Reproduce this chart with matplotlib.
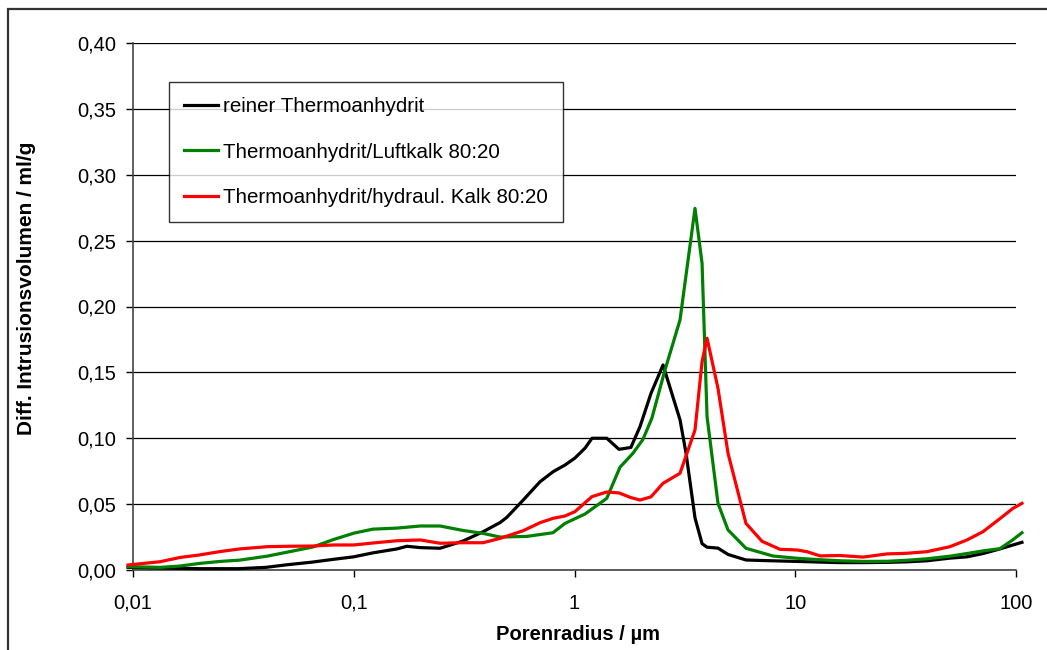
import matplotlib
matplotlib.use("Agg")
import matplotlib.pyplot as plt
from matplotlib.patches import Rectangle

plt.rcParams['font.family'] = ['Liberation Sans', 'DejaVu Sans']

# Pore radius (µm) and differential intrusion volume (ml/g)
radius_black = [0.0095, 0.0133, 0.02, 0.03, 0.04, 0.05, 0.065, 0.08, 0.1, 0.122,
                0.157, 0.174, 0.2, 0.246, 0.3127, 0.385, 0.46, 0.494, 0.585, 0.698,
                0.80, 0.906, 1.005, 1.116, 1.2, 1.4, 1.59, 1.80, 1.98, 2.22,
                2.518, 3.006, 3.2, 3.515, 3.783, 3.985, 4.467, 4.96, 5.98, 7.07,
                10.19, 12.95, 15.95, 20.28, 26.03, 32.07, 39.5, 50.2, 59.98, 70.9,
                84.6, 96.9, 106.4]
volume_black = [0.002, 0.0015, 0.001, 0.001, 0.002, 0.004, 0.006, 0.008, 0.010, 0.013,
                0.016, 0.018, 0.017, 0.0165, 0.022, 0.029, 0.036, 0.040, 0.053, 0.067,
                0.0746, 0.0797, 0.085, 0.0925, 0.100, 0.100, 0.0916, 0.093, 0.1088, 0.134,
                0.1556, 0.114, 0.0888, 0.0395, 0.0200, 0.0173, 0.0166, 0.0118, 0.0076, 0.0072,
                0.0065, 0.0060, 0.0056, 0.0056, 0.0058, 0.0062, 0.0070, 0.0090, 0.0100, 0.0125,
                0.016, 0.019, 0.021]

radius_green = [0.0095, 0.0133, 0.0163, 0.02, 0.0248, 0.0305, 0.0405, 0.0498, 0.0654, 0.0805,
                0.1003, 0.122, 0.157, 0.2, 0.246, 0.3127, 0.385, 0.46, 0.609, 0.799,
                0.906, 1.116, 1.4, 1.607, 1.84, 2.04, 2.24, 2.57, 3.006, 3.515,
                3.783, 3.985, 4.467, 4.96, 5.98, 7.93, 10.19, 12.95, 15.95, 20.28,
                26.03, 32.07, 39.5, 50.2, 59.98, 70.9, 84.6, 96.9, 106.4]
volume_green = [0.0025, 0.002, 0.003, 0.005, 0.0065, 0.0075, 0.0105, 0.0135, 0.0175, 0.023,
                0.028, 0.031, 0.0318, 0.0334, 0.0334, 0.030, 0.0278, 0.0250, 0.0255, 0.0283,
                0.0354, 0.0425, 0.0544, 0.078, 0.0886, 0.099, 0.1151, 0.1518, 0.1898, 0.2745,
                0.2328, 0.1164, 0.0506, 0.0304, 0.0165, 0.0106, 0.0089, 0.0078, 0.0070, 0.0065,
                0.0066, 0.0074, 0.0085, 0.0105, 0.0125, 0.0145, 0.0162, 0.023, 0.0283]

radius_red = [0.0095, 0.0133, 0.0163, 0.02, 0.0248, 0.0305, 0.0405, 0.0498, 0.0654, 0.0805,
              0.1003, 0.122, 0.157, 0.2, 0.246, 0.3127, 0.385, 0.46, 0.585, 0.698,
              0.799, 0.906, 1.005, 1.2, 1.4, 1.59, 1.80, 1.98, 2.22, 2.518,
              3.006, 3.515, 3.783, 3.985, 4.467, 4.96, 5.98, 7.07, 8.53, 10.19,
              11.3, 12.95, 15.95, 20.28, 26.03, 32.07, 39.5, 50.2, 59.98, 70.9,
              84.6, 96.9, 106.4]
volume_red = [0.0038, 0.0063, 0.0095, 0.0114, 0.0140, 0.0160, 0.0177, 0.0180, 0.0182, 0.019,
              0.019, 0.0205, 0.0222, 0.0228, 0.0203, 0.0207, 0.0207, 0.024, 0.0298, 0.0359,
              0.0392, 0.041, 0.0443, 0.0557, 0.0592, 0.0585, 0.0550, 0.0531, 0.0555, 0.0658,
              0.0734, 0.1063, 0.1581, 0.1759, 0.1379, 0.0886, 0.0354, 0.0218, 0.0157, 0.0152,
              0.0139, 0.0107, 0.0110, 0.0098, 0.0122, 0.0127, 0.0139, 0.0177, 0.0228, 0.0291,
              0.0390, 0.0468, 0.0506]

series_labels = ["reiner Thermoanhydrit",
                 "Thermoanhydrit/Luftkalk 80:20",
                 "Thermoanhydrit/hydraul. Kalk 80:20"]
series_colors = ["#000000", "#008000", "#ff0000"]

x_ticks = [0.01, 0.1, 1, 10, 100]
x_tick_labels = ["0,01", "0,1", "1", "10", "100"]
y_ticks = [0.00, 0.05, 0.10, 0.15, 0.20, 0.25, 0.30, 0.35, 0.40]
y_tick_labels = ["0,00", "0,05", "0,10", "0,15", "0,20", "0,25", "0,30", "0,35", "0,40"]

W, H = 1047, 650
FS = 14.5
fig = plt.figure(figsize=(W / 100, H / 100), dpi=100)
ax = fig.add_axes([133 / W, 1 - 570 / H, (1016 - 133) / W, (570 - 43) / H])

for xs, ys, lab, col in zip([radius_black, radius_green, radius_red],
                            [volume_black, volume_green, volume_red],
                            series_labels, series_colors):
    ax.plot(xs, ys, color=col, lw=2.3, label=lab, clip_on=False,
            solid_joinstyle='round', zorder=3)

ax.set_xscale('log')
ax.set_xlim(0.01, 100)
ax.set_ylim(0, 0.40)
ax.set_xticks(x_ticks)
ax.set_xticklabels(x_tick_labels)
ax.xaxis.set_minor_locator(matplotlib.ticker.NullLocator())
ax.set_yticks(y_ticks)
ax.set_yticklabels(y_tick_labels)

ax.tick_params(axis='both', labelsize=FS, length=5, width=1, color='black',
               direction='out')
ax.tick_params(axis='y', pad=7)
ax.tick_params(axis='x', pad=12)

ax.grid(axis='y', color='black', lw=0.9)
ax.set_axisbelow(True)
for side in ('top', 'right'):
    ax.spines[side].set_visible(False)
for side in ('left', 'bottom'):
    ax.spines[side].set_color('#444444')
    ax.spines[side].set_linewidth(1.2)

ax.set_xlabel("Porenradius / µm", fontsize=FS, fontweight='bold')
ax.set_ylabel("Diff. Intrusionsvolumen / ml/g", fontsize=15, fontweight='bold')
ax.yaxis.set_label_coords((27 - 133) / (1016 - 133), (570 - 288) / 527)
ax.xaxis.set_label_coords((578 - 133) / (1016 - 133), -(625 - 570) / 527)
ax.xaxis.label.set_va('top')
ax.yaxis.label.set_va('center')

leg = ax.legend(loc='upper left', bbox_to_anchor=(169 / W, 1 - 82 / H),
                bbox_transform=fig.transFigure, fontsize=14.8, frameon=True,
                fancybox=False, edgecolor='black', handlelength=1.65,
                handletextpad=0.25, labelspacing=1.3, borderpad=0.72,
                borderaxespad=0)
leg.get_frame().set_linewidth(1.0)
for line in leg.get_lines():
    line.set_linewidth(2.3)

# Outer chart frame
fig.patches.append(Rectangle((8 / W, -0.05), 1.1, 1 - 9 / H + 0.05,
                             transform=fig.transFigure, fill=False,
                             edgecolor='#333333', lw=1.6))

fig.savefig("out.png", dpi=100)
